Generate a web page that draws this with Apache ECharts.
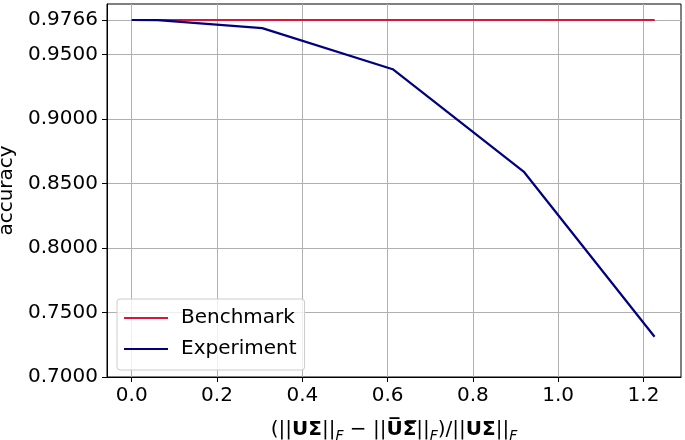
<!DOCTYPE html>
<html>
<head>
<meta charset="utf-8">
<script src="https://cdn.jsdelivr.net/npm/echarts@6/dist/echarts.min.js"></script>
<style>html,body{margin:0;padding:0;background:#fff}#c{width:685px;height:440px}</style>
</head>
<body>
<div id="c"></div>
<script>
var benchmarkX = [0.0, 1.2263];
var benchmarkY = [0.9766, 0.9766];
var experimentX = [0.0, 0.061, 0.306, 0.612, 0.919, 1.226];
var experimentY = [0.9766, 0.9765, 0.9703, 0.9385, 0.8592, 0.7312];
var xTicks = [0.0, 0.2, 0.4, 0.6, 0.8, 1.0, 1.2];
var yTicks = [0.7, 0.75, 0.8, 0.85, 0.9, 0.95, 0.9766];

function pairs(xs, ys) { return xs.map(function (x, i) { return [x, ys[i]]; }); }

var font = 'DejaVu Sans';
var chart = echarts.init(document.getElementById('c'), null, {renderer: 'canvas'});
chart.setOption({
  animation: false,
  backgroundColor: '#fff',
  grid: {left: 107, top: 4, right: 4, bottom: 63, show: true, borderColor: '#000', borderWidth: 1,
    backgroundColor: 'transparent', containLabel: false, outerBoundsMode: 'none'},
  legend: {
    left: 117, top: 299, orient: 'vertical',
    padding: [9, 8, 11, 7], itemGap: 11, itemWidth: 44, itemHeight: 2,
    backgroundColor: 'rgba(255,255,255,0.8)', borderColor: '#cccccc', borderWidth: 1, borderRadius: 3,
    textStyle: {fontFamily: font, fontSize: 20, color: '#000', padding: [0, 0, 0, 8], lineHeight: 16},
    data: [{name: 'Benchmark', icon: 'rect'}, {name: 'Experiment', icon: 'rect'}]
  },
  xAxis: {
    type: 'value', min: -0.058, max: 1.288,
    name: '{n|(||}{b|UΣ}{n|||}{s|F}{n| − ||}{b|U\u0305Σ\u0305}{n|||}{s|F}{n|)/||}{b|UΣ}{n|||}{s|F}',
    nameLocation: 'middle', nameGap: 40,
    nameTextStyle: {
      fontFamily: font, fontSize: 20, color: '#000',
      rich: {
        n: {fontFamily: font, fontSize: 20, lineHeight: 26, verticalAlign: 'middle'},
        b: {fontFamily: font, fontSize: 20, fontWeight: 'bold', lineHeight: 26, verticalAlign: 'middle'},
        s: {fontFamily: font, fontSize: 14, fontStyle: 'italic', lineHeight: 12, verticalAlign: 'bottom'}
      }
    },
    axisLine: {show: true, onZero: false, lineStyle: {color: '#000', width: 1}},
    axisTick: {show: true, inside: false, length: 5, lineStyle: {color: '#000', width: 1}, customValues: xTicks},
    axisLabel: {fontFamily: font, fontSize: 20, color: '#000', margin: 9, customValues: xTicks,
      formatter: function (v) { return v.toFixed(1); }},
    splitLine: {show: true, lineStyle: {color: '#b0b0b0', width: 1}}
  },
  yAxis: {
    type: 'value', min: 0.7, max: 0.989,
    name: 'accuracy', nameLocation: 'middle', nameRotate: 90, nameGap: 90,
    nameTextStyle: {fontFamily: font, fontSize: 20, color: '#000'},
    axisLine: {show: true, onZero: false, lineStyle: {color: '#000', width: 1}},
    axisTick: {show: true, inside: false, length: 5, lineStyle: {color: '#000', width: 1}, customValues: yTicks},
    axisLabel: {fontFamily: font, fontSize: 20, color: '#000', margin: 9, customValues: yTicks,
      formatter: function (v) { return v.toFixed(4); }},
    splitLine: {show: true, lineStyle: {color: '#b0b0b0', width: 1}}
  },
  series: [
    {name: 'Benchmark', type: 'line', data: pairs(benchmarkX, benchmarkY), showSymbol: false, symbol: 'none',
      lineStyle: {color: '#dc143c', width: 2.2}, itemStyle: {color: '#dc143c'}, z: 2},
    {name: 'Experiment', type: 'line', data: pairs(experimentX, experimentY), showSymbol: false, symbol: 'none',
      lineStyle: {color: '#000080', width: 2.2}, itemStyle: {color: '#000080'}, z: 3}
  ]
});
</script>
</body>
</html>
